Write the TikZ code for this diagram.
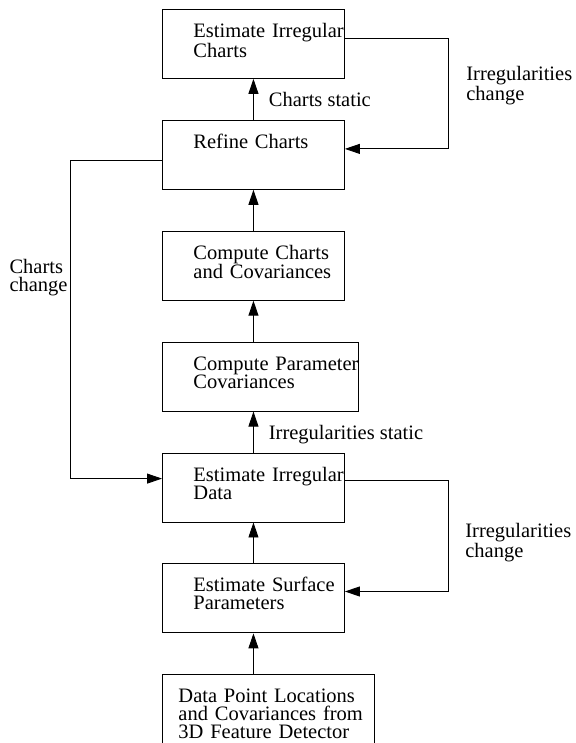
\documentclass[tikz,border=0pt]{standalone}
\usepackage{fontspec}
\setmainfont{Liberation Serif}
\usetikzlibrary{arrows.meta,positioning}

\begin{document}
\begin{tikzpicture}[
      x=1pt,y=1pt,
      node distance=41pt,
      stage/.style={draw,line width=0.9pt,anchor=north west,
                    text width=#1,inner xsep=0pt,inner ysep=0pt,
                    text height=28pt,text depth=41pt,
                    font=\fontsize{20.5}{18}\selectfont,align=left,
                    execute at begin node={\leftskip=31pt\rightskip=-6pt plus 1fil}},
      stage/.default=182pt,
      note/.style={font=\fontsize{20.5}{18}\selectfont,align=left,inner sep=0pt},
      arr/.style={-{Triangle[length=15pt,width=10pt]},line width=0.9pt}
    ]
      \useasboundingbox (0,0) rectangle (575,743);
      % boxes, bottom of chain is the input data
      \node[stage] (irrch) at (162,734) {Estimate Irregular\\Charts};
      \node[stage,below=of irrch.south west,anchor=north west] (refine) {Refine Charts};
      \node[stage,below=of refine.south west,anchor=north west] (compch) {Compute Charts\\and Covariances};
      \node[stage=196pt,below=of compch.south west,anchor=north west] (comppar) {Compute Parameter\\Covariances};
      \node[stage,below=of comppar.south west,anchor=north west] (irrdata) {Estimate Irregular\\Data};
      \node[stage,below=of irrdata.south west,anchor=north west] (surf) {Estimate Surface\\Parameters};
      \node[stage=212pt,text depth=44pt,execute at begin node={\leftskip=16pt},
            below=of surf.south west,anchor=north west] (data)
            {Data Point Locations\\and Covariances from\\3D Feature Detector};

      % main flow
      \draw[arr] (data.north -| surf.south) -- (surf.south);
      \draw[arr] (surf) -- (irrdata);
      \draw[arr] (irrdata.north) -- node[note,anchor=base west,xshift=15pt,yshift=-7pt]{Irregularities static}
            (irrdata.north |- comppar.south);
      \draw[arr] (compch.south |- comppar.north) -- (compch.south);
      \draw[arr] (compch) -- (refine);
      \draw[arr] (refine) -- node[note,anchor=base west,xshift=15pt,yshift=-7pt]{Charts static} (irrch);

      % feedback loops
      \draw[arr] ([yshift=-29pt]irrch.north east) -- ++(104,0)
            |- node[note,pos=0.25,anchor=west,xshift=17pt,yshift=7.75pt]{Irregularities\\change}
            ([yshift=-29pt]refine.north east);
      \draw[arr] ([yshift=-41pt]refine.north west) -- ++(-92,0)
            |- node[note,pos=0.184,anchor=east,xshift=-2pt]{Charts\\change}
            ([yshift=-26pt]irrdata.north west);
      \draw[arr] ([yshift=-28pt]irrdata.north east) -- ++(104,0)
            |- node[note,pos=0.25,anchor=west,xshift=16pt,yshift=-6.5pt]{Irregularities\\change}
            ([yshift=-28pt]surf.north east);
\end{tikzpicture}
\end{document}
